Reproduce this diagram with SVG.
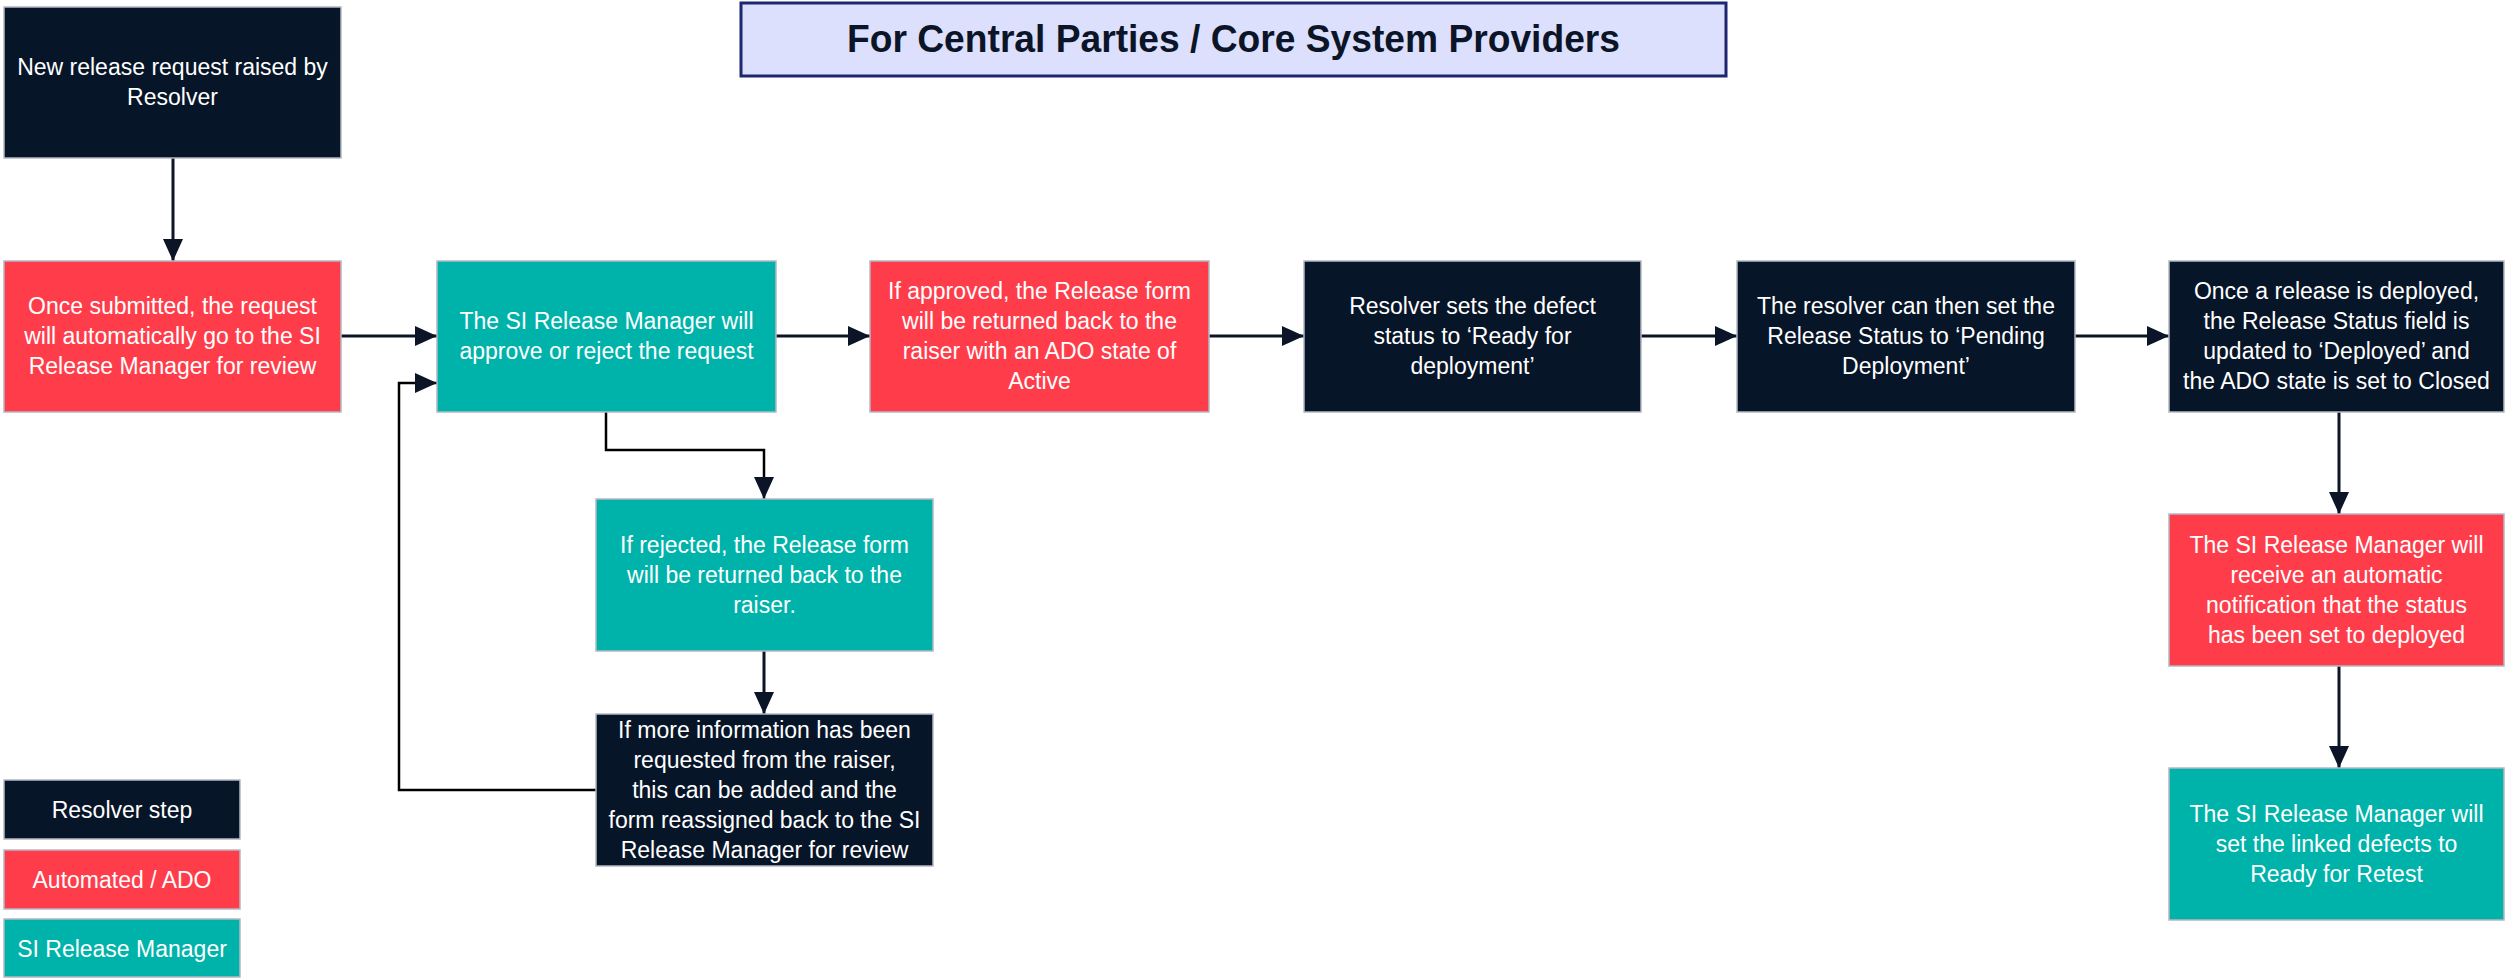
<svg xmlns="http://www.w3.org/2000/svg" width="2506" height="978" viewBox="0 0 2506 978">
<style>
.box{stroke:#b4b8c4;stroke-width:1.5}
.dark{fill:#071528}
.red{fill:#ff3d4a}
.teal{fill:#00b3aa}
.t{font-family:"Liberation Sans",Arial,sans-serif;font-size:23px;fill:#ffffff;text-anchor:middle}
.title{font-family:"Liberation Sans",Arial,sans-serif;font-size:38px;font-weight:bold;fill:#0b1527;text-anchor:middle}
.c{fill:none;stroke:#0b1527;stroke-width:3}
.c2{fill:none;stroke:#000000;stroke-width:2.5}
</style>
<defs>
<marker id="ah" markerUnits="userSpaceOnUse" markerWidth="22" markerHeight="20" refX="22" refY="10" orient="auto">
<path d="M0,0 L22,10 L0,20 z" fill="#0b1527"/>
</marker>
</defs>
<rect width="2506" height="978" fill="#ffffff"/>
<g id="title">
<rect x="741" y="3" width="985" height="73" fill="#dde0fc" stroke="#1d2670" stroke-width="3"/>
<text class="title" x="1233.5" y="52" textLength="773" lengthAdjust="spacingAndGlyphs">For Central Parties / Core System Providers</text>
</g>
<g id="connectors">
<path class="c" d="M173,158 V261" marker-end="url(#ah)"/>
<path class="c" d="M341,336 H437" marker-end="url(#ah)"/>
<path class="c" d="M776,336 H870" marker-end="url(#ah)"/>
<path class="c" d="M1209,336 H1304" marker-end="url(#ah)"/>
<path class="c" d="M1641,336 H1737" marker-end="url(#ah)"/>
<path class="c" d="M2075,336 H2169" marker-end="url(#ah)"/>
<path class="c2" d="M606,412 V450 H764 V499" marker-end="url(#ah)"/>
<path class="c" d="M764,651 V714" marker-end="url(#ah)"/>
<path class="c2" d="M596,790 H399 V383 H437" marker-end="url(#ah)"/>
<path class="c" d="M2339,412 V514" marker-end="url(#ah)"/>
<path class="c" d="M2339,666 V768" marker-end="url(#ah)"/>
</g>
<g id="node-new-request">
<rect class="box dark" x="4" y="7" width="337" height="151"/>
<text class="t" x="172.5"><tspan x="172.5" y="75">New release request raised by</tspan><tspan x="172.5" y="105">Resolver</tspan></text>
</g>
<g id="node-submitted">
<rect class="box red" x="4" y="261" width="337" height="151"/>
<text class="t"><tspan x="172.5" y="314">Once submitted, the request</tspan><tspan x="172.5" y="344">will automatically go to the SI</tspan><tspan x="172.5" y="374">Release Manager for review</tspan></text>
</g>
<g id="node-approve-reject">
<rect class="box teal" x="437" y="261" width="339" height="151"/>
<text class="t"><tspan x="606.5" y="329">The SI Release Manager will</tspan><tspan x="606.5" y="359">approve or reject the request</tspan></text>
</g>
<g id="node-approved">
<rect class="box red" x="870" y="261" width="339" height="151"/>
<text class="t"><tspan x="1039.5" y="299">If approved, the Release form</tspan><tspan x="1039.5" y="329">will be returned back to the</tspan><tspan x="1039.5" y="359">raiser with an ADO state of</tspan><tspan x="1039.5" y="389">Active</tspan></text>
</g>
<g id="node-ready-deploy">
<rect class="box dark" x="1304" y="261" width="337" height="151"/>
<text class="t"><tspan x="1472.5" y="314">Resolver sets the defect</tspan><tspan x="1472.5" y="344">status to ‘Ready for</tspan><tspan x="1472.5" y="374">deployment’</tspan></text>
</g>
<g id="node-pending">
<rect class="box dark" x="1737" y="261" width="338" height="151"/>
<text class="t"><tspan x="1906" y="314">The resolver can then set the</tspan><tspan x="1906" y="344">Release Status to ‘Pending</tspan><tspan x="1906" y="374">Deployment’</tspan></text>
</g>
<g id="node-deployed">
<rect class="box dark" x="2169" y="261" width="335" height="151"/>
<text class="t"><tspan x="2336.5" y="299">Once a release is deployed,</tspan><tspan x="2336.5" y="329">the Release Status field is</tspan><tspan x="2336.5" y="359">updated to ‘Deployed’ and</tspan><tspan x="2336.5" y="389">the ADO state is set to Closed</tspan></text>
</g>
<g id="node-notification">
<rect class="box red" x="2169" y="514" width="335" height="152"/>
<text class="t"><tspan x="2336.5" y="553">The SI Release Manager will</tspan><tspan x="2336.5" y="583">receive an automatic</tspan><tspan x="2336.5" y="613">notification that the status</tspan><tspan x="2336.5" y="643">has been set to deployed</tspan></text>
</g>
<g id="node-retest">
<rect class="box teal" x="2169" y="768" width="335" height="152"/>
<text class="t"><tspan x="2336.5" y="822">The SI Release Manager will</tspan><tspan x="2336.5" y="852">set the linked defects to</tspan><tspan x="2336.5" y="882">Ready for Retest</tspan></text>
</g>
<g id="node-rejected">
<rect class="box teal" x="596" y="499" width="337" height="152"/>
<text class="t"><tspan x="764.5" y="553">If rejected, the Release form</tspan><tspan x="764.5" y="583">will be returned back to the</tspan><tspan x="764.5" y="613">raiser.</tspan></text>
</g>
<g id="node-more-info">
<rect class="box dark" x="596" y="714" width="337" height="152"/>
<text class="t"><tspan x="764.5" y="738">If more information has been</tspan><tspan x="764.5" y="768">requested from the raiser,</tspan><tspan x="764.5" y="798">this can be added and the</tspan><tspan x="764.5" y="828">form reassigned back to the SI</tspan><tspan x="764.5" y="858">Release Manager for review</tspan></text>
</g>
<g id="legend-resolver">
<rect class="box dark" x="4" y="780" width="236" height="59"/>
<text class="t" x="122" y="818">Resolver step</text>
</g>
<g id="legend-automated">
<rect class="box red" x="4" y="850" width="236" height="59"/>
<text class="t" x="122" y="888">Automated / ADO</text>
</g>
<g id="legend-si">
<rect class="box teal" x="4" y="919" width="236" height="58"/>
<text class="t" x="122" y="957">SI Release Manager</text>
</g>
</svg>
